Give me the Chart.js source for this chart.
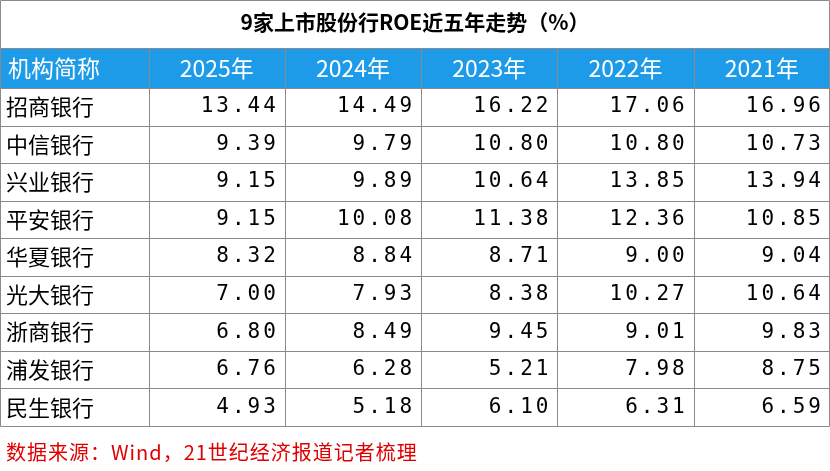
<!DOCTYPE html>
<html>
<head>
<meta charset="utf-8">
<script src="https://cdn.jsdelivr.net/npm/chart.js@4"></script>
<style>
  body { margin: 0; background: #fff; }
  #wrap { width: 830px; height: 471px; }
</style>
</head>
<body>
<div id="wrap"><canvas id="roeTable"></canvas></div>
<script>
const title = '9家上市股份行ROE近五年走势（%）';
const firstHeader = '机构简称';
const years = ['2025年', '2024年', '2023年', '2022年', '2021年'];
const banks = ['招商银行', '中信银行', '兴业银行', '平安银行', '华夏银行', '光大银行', '浙商银行', '浦发银行', '民生银行'];
const roe2025 = [13.44, 9.39, 9.15, 9.15, 8.32, 7.00, 6.80, 6.76, 4.93];
const roe2024 = [14.49, 9.79, 9.89, 10.08, 8.84, 7.93, 8.49, 6.28, 5.18];
const roe2023 = [16.22, 10.80, 10.64, 11.38, 8.71, 8.38, 9.45, 5.21, 6.10];
const roe2022 = [17.06, 10.80, 13.85, 12.36, 9.00, 10.27, 9.01, 7.98, 6.31];
const roe2021 = [16.96, 10.73, 13.94, 10.85, 9.04, 10.64, 9.83, 8.75, 6.59];
const source = '数据来源：Wind，21世纪经济报道记者梳理';

const series = [roe2025, roe2024, roe2023, roe2022, roe2021];
const FONT = '"Noto Sans CJK SC", "Noto Sans", sans-serif';
const BLUE = '#1e9be8';
const LINE = '#8a8a8a';

// columns: x = -1.09 .. 0 for names, then 0..5 for years; rows: y = 0..9
const tablePlugin = {
  id: 'tablePlugin',
  afterDraw(chart) {
    const ctx = chart.ctx;
    const xs = chart.scales.x, ys = chart.scales.y;
    const left = xs.getPixelForValue(xs.min), right = xs.getPixelForValue(xs.max);
    const top = ys.getPixelForValue(0), bottom = ys.getPixelForValue(9);
    const headTop = top - 40, titleTop = 0;
    ctx.save();

    // title
    ctx.fillStyle = '#000';
    ctx.font = 'bold 21px ' + FONT;
    ctx.textAlign = 'center';
    ctx.textBaseline = 'middle';
    ctx.fillText(title, (left + right) / 2, 22);

    // header
    ctx.fillStyle = BLUE;
    ctx.fillRect(left, headTop, right - left, top - headTop);
    ctx.fillStyle = '#fff';
    ctx.font = '23px ' + FONT;
    ctx.textAlign = 'left';
    ctx.fillText(firstHeader, left + 8, (headTop + top) / 2);
    ctx.textAlign = 'center';
    years.forEach((y, i) => {
      ctx.fillText(y, xs.getPixelForValue(i + 0.5), (headTop + top) / 2);
    });

    // body text
    ctx.fillStyle = '#000';
    banks.forEach((b, r) => {
      const cy = ys.getPixelForValue(r + 0.5);
      ctx.textAlign = 'left';
      ctx.font = '22px ' + FONT;
      ctx.letterSpacing = '0px';
      ctx.fillText(b, left + 6, cy);
      ctx.textAlign = 'right';
      ctx.font = '21px "DejaVu Sans Mono", monospace';
      ctx.letterSpacing = '3px';
      series.forEach((s, c) => {
        ctx.fillText(s[r].toFixed(2), xs.getPixelForValue(c + 1) - 6, cy);
      });
    });
    ctx.letterSpacing = '0px';

    // grid
    ctx.strokeStyle = LINE;
    ctx.lineWidth = 1;
    ctx.beginPath();
    ctx.rect(left + 0.5, titleTop + 0.5, right - left - 1, bottom - titleTop);
    [headTop, top].forEach(y => { ctx.moveTo(left, Math.round(y) + 0.5); ctx.lineTo(right, Math.round(y) + 0.5); });
    for (let r = 1; r < 9; r++) {
      const y = Math.round(ys.getPixelForValue(r)) + 0.5;
      ctx.moveTo(left, y); ctx.lineTo(right, y);
    }
    for (let c = 0; c < 5; c++) {
      const x = Math.round(xs.getPixelForValue(c)) + 0.5;
      ctx.moveTo(x, headTop); ctx.lineTo(x, bottom);
    }
    ctx.stroke();

    // source
    ctx.fillStyle = '#e00000';
    ctx.font = '20px ' + FONT;
    ctx.letterSpacing = '1px';
    ctx.textAlign = 'left';
    ctx.fillText(source, left + 6, bottom + 26);
    ctx.restore();
  }
};

new Chart(document.getElementById('roeTable'), {
  type: 'scatter',
  data: {
    datasets: series.map((s, c) => ({
      label: years[c],
      data: s.map((v, r) => ({ x: c + 0.5, y: r + 0.5 })),
      pointRadius: 0
    }))
  },
  options: {
    responsive: true,
    maintainAspectRatio: false,
    animation: false,
    layout: { padding: { top: 88, bottom: 45, left: 0, right: 0 } },
    plugins: { legend: { display: false }, tooltip: { enabled: false } },
    scales: {
      x: { type: 'linear', min: -1.09, max: 5, display: false },
      y: { type: 'linear', min: 0, max: 9, reverse: true, display: false }
    }
  },
  plugins: [tablePlugin]
});
</script>
</body>
</html>
